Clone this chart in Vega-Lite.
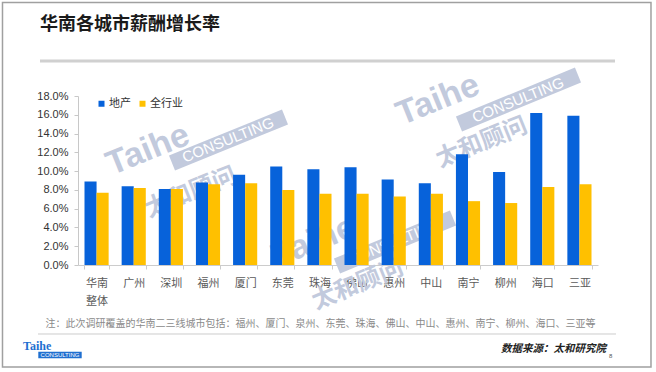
{
  "$schema": "https://vega.github.io/schema/vega-lite/v6.json",
  "width": 520,
  "height": 169,
  "autosize": "none",
  "padding": {"left": 78, "top": 96, "right": 58, "bottom": 107},
  "background": "white",
  "config": {"view": {"stroke": null}},
  "title": {
    "text": "华南各城市薪酬增长率",
    "anchor": "start",
    "frame": "group",
    "dx": -38,
    "offset": -41,
    "baseline": "middle",
    "font": "Noto Sans CJK SC",
    "fontSize": 18,
    "fontWeight": "bold",
    "color": "#1a1a1a"
  },
  "resolve": {"scale": {"x": "independent", "y": "independent"}},
  "layer": [
    {
      "data": {"values": [{}]},
      "mark": {"type": "text", "text": "Taihe", "angle": -22, "font": "Liberation Sans", "fontSize": 34, "fontWeight": "bold", "color": "#c2cadd", "align": "center", "baseline": "middle"},
      "encoding": {
        "x": {"datum": 0.13462, "type": "quantitative", "scale": {"domain": [0, 1], "nice": false}, "axis": null},
        "y": {"datum": 0.12249, "type": "quantitative", "scale": {"domain": [0, 0.18], "nice": false}, "axis": null}
      }
    },
    {
      "data": {"values": [{}]},
      "mark": {"type": "rule", "strokeWidth": 16, "strokeCap": "butt", "color": "#c2cadd"},
      "encoding": {
        "x": {"datum": 0.18077, "type": "quantitative", "scale": {"domain": [0, 1], "nice": false}, "axis": null},
        "x2": {"datum": 0.39808},
        "y": {"datum": 0.10864, "type": "quantitative", "scale": {"domain": [0, 0.18], "nice": false}, "axis": null},
        "y2": {"datum": 0.15763}
      }
    },
    {
      "data": {"values": [{}]},
      "mark": {"type": "text", "text": "CONSULTING", "angle": -22, "font": "Liberation Sans", "fontSize": 15, "color": "#ffffff", "align": "center", "baseline": "middle"},
      "encoding": {
        "x": {"datum": 0.28846, "type": "quantitative", "scale": {"domain": [0, 1], "nice": false}, "axis": null},
        "y": {"datum": 0.13314, "type": "quantitative", "scale": {"domain": [0, 0.18], "nice": false}, "axis": null}
      }
    },
    {
      "data": {"values": [{}]},
      "mark": {"type": "text", "text": "太和顾问", "angle": -22, "font": "Noto Sans CJK SC", "fontSize": 24, "fontWeight": "bold", "color": "#c2cadd", "align": "center", "baseline": "middle"},
      "encoding": {
        "x": {"datum": 0.21731, "type": "quantitative", "scale": {"domain": [0, 1], "nice": false}, "axis": null},
        "y": {"datum": 0.07669, "type": "quantitative", "scale": {"domain": [0, 0.18], "nice": false}, "axis": null}
      }
    },
    {
      "data": {"values": [{}]},
      "mark": {"type": "text", "text": "Taihe", "angle": -22, "font": "Liberation Sans", "fontSize": 34, "fontWeight": "bold", "color": "#c2cadd", "align": "center", "baseline": "middle"},
      "encoding": {
        "x": {"datum": 0.69231, "type": "quantitative", "scale": {"domain": [0, 1], "nice": false}, "axis": null},
        "y": {"datum": 0.17574, "type": "quantitative", "scale": {"domain": [0, 0.18], "nice": false}, "axis": null}
      }
    },
    {
      "data": {"values": [{}]},
      "mark": {"type": "rule", "strokeWidth": 16, "strokeCap": "butt", "color": "#c2cadd"},
      "encoding": {
        "x": {"datum": 0.73269, "type": "quantitative", "scale": {"domain": [0, 1], "nice": false}, "axis": null},
        "x2": {"datum": 0.96154},
        "y": {"datum": 0.15018, "type": "quantitative", "scale": {"domain": [0, 0.18], "nice": false}, "axis": null},
        "y2": {"datum": 0.20237}
      }
    },
    {
      "data": {"values": [{}]},
      "mark": {"type": "text", "text": "CONSULTING", "angle": -22, "font": "Liberation Sans", "fontSize": 15, "color": "#ffffff", "align": "center", "baseline": "middle"},
      "encoding": {
        "x": {"datum": 0.84615, "type": "quantitative", "scale": {"domain": [0, 1], "nice": false}, "axis": null},
        "y": {"datum": 0.17574, "type": "quantitative", "scale": {"domain": [0, 0.18], "nice": false}, "axis": null}
      }
    },
    {
      "data": {"values": [{}]},
      "mark": {"type": "text", "text": "太和顾问", "angle": -22, "font": "Noto Sans CJK SC", "fontSize": 24, "fontWeight": "bold", "color": "#c2cadd", "align": "center", "baseline": "middle"},
      "encoding": {
        "x": {"datum": 0.77692, "type": "quantitative", "scale": {"domain": [0, 1], "nice": false}, "axis": null},
        "y": {"datum": 0.12994, "type": "quantitative", "scale": {"domain": [0, 0.18], "nice": false}, "axis": null}
      }
    },
    {
      "data": {"values": [{}]},
      "mark": {"type": "text", "text": "Taihe", "angle": -22, "font": "Liberation Sans", "fontSize": 34, "fontWeight": "bold", "color": "#c2cadd", "align": "center", "baseline": "middle"},
      "encoding": {
        "x": {"datum": 0.45385, "type": "quantitative", "scale": {"domain": [0, 1], "nice": false}, "axis": null},
        "y": {"datum": 0.0245, "type": "quantitative", "scale": {"domain": [0, 0.18], "nice": false}, "axis": null}
      }
    },
    {
      "data": {"values": [{}]},
      "mark": {"type": "rule", "strokeWidth": 16, "strokeCap": "butt", "color": "#c2cadd"},
      "encoding": {
        "x": {"datum": 0.49808, "type": "quantitative", "scale": {"domain": [0, 1], "nice": false}, "axis": null},
        "x2": {"datum": 0.72115},
        "y": {"datum": -0.00107, "type": "quantitative", "scale": {"domain": [0, 0.18], "nice": false}, "axis": null},
        "y2": {"datum": 0.05006}
      }
    },
    {
      "data": {"values": [{}]},
      "mark": {"type": "text", "text": "CONSULTING", "angle": -22, "font": "Liberation Sans", "fontSize": 15, "color": "#ffffff", "align": "center", "baseline": "middle"},
      "encoding": {
        "x": {"datum": 0.60769, "type": "quantitative", "scale": {"domain": [0, 1], "nice": false}, "axis": null},
        "y": {"datum": 0.0245, "type": "quantitative", "scale": {"domain": [0, 0.18], "nice": false}, "axis": null}
      }
    },
    {
      "data": {"values": [{}]},
      "mark": {"type": "text", "text": "太和顾问", "angle": -22, "font": "Noto Sans CJK SC", "fontSize": 24, "fontWeight": "bold", "color": "#c2cadd", "align": "center", "baseline": "middle"},
      "encoding": {
        "x": {"datum": 0.53846, "type": "quantitative", "scale": {"domain": [0, 1], "nice": false}, "axis": null},
        "y": {"datum": -0.0213, "type": "quantitative", "scale": {"domain": [0, 0.18], "nice": false}, "axis": null}
      }
    },
    {
      "data": {
        "values": [
          {"city": "华南整体", "series": "地产", "value": 0.089},
          {"city": "华南整体", "series": "全行业", "value": 0.077},
          {"city": "广州", "series": "地产", "value": 0.084},
          {"city": "广州", "series": "全行业", "value": 0.082},
          {"city": "深圳", "series": "地产", "value": 0.081},
          {"city": "深圳", "series": "全行业", "value": 0.081},
          {"city": "福州", "series": "地产", "value": 0.088},
          {"city": "福州", "series": "全行业", "value": 0.086},
          {"city": "厦门", "series": "地产", "value": 0.096},
          {"city": "厦门", "series": "全行业", "value": 0.087},
          {"city": "东莞", "series": "地产", "value": 0.105},
          {"city": "东莞", "series": "全行业", "value": 0.080},
          {"city": "珠海", "series": "地产", "value": 0.102},
          {"city": "珠海", "series": "全行业", "value": 0.076},
          {"city": "佛山", "series": "地产", "value": 0.104},
          {"city": "佛山", "series": "全行业", "value": 0.076},
          {"city": "惠州", "series": "地产", "value": 0.091},
          {"city": "惠州", "series": "全行业", "value": 0.073},
          {"city": "中山", "series": "地产", "value": 0.087},
          {"city": "中山", "series": "全行业", "value": 0.076},
          {"city": "南宁", "series": "地产", "value": 0.118},
          {"city": "南宁", "series": "全行业", "value": 0.068},
          {"city": "柳州", "series": "地产", "value": 0.099},
          {"city": "柳州", "series": "全行业", "value": 0.066},
          {"city": "海口", "series": "地产", "value": 0.162},
          {"city": "海口", "series": "全行业", "value": 0.083},
          {"city": "三亚", "series": "地产", "value": 0.159},
          {"city": "三亚", "series": "全行业", "value": 0.086}
        ]
      },
      "mark": {"type": "bar"},
      "encoding": {
        "x": {
          "field": "city",
          "type": "nominal",
          "sort": null,
          "scale": {"paddingInner": 0.35, "paddingOuter": 0.175},
          "axis": {
            "title": "注：此次调研覆盖的华南二三线城市包括：福州、厦门、泉州、东莞、珠海、佛山、中山、惠州、南宁、柳州、海口、三亚等",
            "titleFont": "Noto Sans CJK SC",
            "titleFontSize": 10,
            "titleFontWeight": "normal",
            "titleColor": "#8a8a8a",
            "titleAnchor": "start",
            "titleAlign": "left",
            "titleBaseline": "middle",
            "titleX": -33,
            "titleY": 58,
            "labelExpr": "datum.value == '华南整体' ? ['华南', '整体'] : datum.value",
            "labelAngle": 0,
            "labelFont": "Noto Sans CJK SC",
            "labelFontSize": 11,
            "labelColor": "#5a5a5a",
            "labelLineHeight": 18,
            "labelPadding": 8,
            "tickBand": "extent",
            "tickSize": 4,
            "tickColor": "#cccccc",
            "domainColor": "#cccccc"
          }
        },
        "xOffset": {"field": "series", "type": "nominal", "sort": ["地产", "全行业"], "scale": {"paddingInner": 0}},
        "y": {
          "field": "value",
          "type": "quantitative",
          "scale": {"domain": [0, 0.18], "nice": false},
          "axis": {
            "title": null,
            "format": ".1%",
            "values": [0, 0.02, 0.04, 0.06, 0.08, 0.1, 0.12, 0.14, 0.16, 0.18],
            "grid": false,
            "domain": true,
            "domainColor": "#c8c8c8",
            "ticks": true,
            "tickColor": "#c8c8c8",
            "tickSize": 4,
            "labelPadding": 6,
            "labelFont": "Liberation Sans",
            "labelFontSize": 11,
            "labelColor": "#333333"
          }
        },
        "color": {
          "field": "series",
          "type": "nominal",
          "sort": ["地产", "全行业"],
          "scale": {"domain": ["地产", "全行业"], "range": ["#0762DA", "#FFC000"]},
          "legend": {
            "orient": "none",
            "legendX": 18,
            "legendY": 2,
            "direction": "horizontal",
            "title": null,
            "symbolType": "square",
            "symbolSize": 36,
            "symbolStrokeWidth": 0,
            "labelFont": "Noto Sans CJK SC",
            "labelFontSize": 11,
            "labelColor": "#333333",
            "labelOffset": 2,
            "columnPadding": 6,
            "padding": 0
          }
        }
      }
    },
    {
      "data": {"values": [{}]},
      "mark": {"type": "rule", "strokeWidth": 3, "color": "#d0d0d0"},
      "encoding": {
        "x": {"datum": -0.0731, "type": "quantitative", "scale": {"domain": [0, 1], "nice": false}, "axis": null},
        "x2": {"datum": 1.0327},
        "y": {"datum": 0.21728, "type": "quantitative", "scale": {"domain": [0, 0.18], "nice": false}, "axis": null}
      }
    },
    {
      "data": {"values": [{}]},
      "mark": {"type": "rule", "strokeWidth": 1, "color": "#cccccc"},
      "encoding": {
        "x": {"datum": -0.0769, "type": "quantitative", "scale": {"domain": [0, 1], "nice": false}, "axis": null},
        "x2": {"datum": 1.0346},
        "y": {"datum": -0.07349, "type": "quantitative", "scale": {"domain": [0, 0.18], "nice": false}, "axis": null}
      }
    },
    {
      "data": {"values": [{}]},
      "mark": {"type": "text", "text": "数据来源：太和研究院", "font": "Noto Sans CJK SC", "fontSize": 10.5, "fontWeight": "bold", "fontStyle": "italic", "color": "#222222", "align": "right", "baseline": "middle"},
      "encoding": {
        "x": {"datum": 1.0154, "type": "quantitative", "scale": {"domain": [0, 1], "nice": false}, "axis": null},
        "y": {"datum": -0.08947, "type": "quantitative", "scale": {"domain": [0, 0.18], "nice": false}, "axis": null}
      }
    },
    {
      "data": {"values": [{}]},
      "mark": {"type": "text", "text": "8", "font": "Liberation Sans", "fontSize": 6, "color": "#555555", "align": "left", "baseline": "middle"},
      "encoding": {
        "x": {"datum": 1.0212, "type": "quantitative", "scale": {"domain": [0, 1], "nice": false}, "axis": null},
        "y": {"datum": -0.09692, "type": "quantitative", "scale": {"domain": [0, 0.18], "nice": false}, "axis": null}
      }
    },
    {
      "data": {"values": [{}]},
      "mark": {"type": "text", "text": "Taihe", "font": "Liberation Sans Narrow", "fontSize": 12, "fontWeight": "bold", "color": "#1f6fd0", "align": "left", "baseline": "middle"},
      "encoding": {
        "x": {"datum": -0.10577, "type": "quantitative", "scale": {"domain": [0, 1], "nice": false}, "axis": null},
        "y": {"datum": -0.08627, "type": "quantitative", "scale": {"domain": [0, 0.18], "nice": false}, "axis": null}
      }
    },
    {
      "data": {"values": [{}]},
      "mark": {"type": "rect", "color": "#1f6fd0"},
      "encoding": {
        "x": {"datum": -0.07635, "type": "quantitative", "scale": {"domain": [0, 1], "nice": false}, "axis": null},
        "x2": {"datum": 0.00712},
        "y": {"datum": -0.09234, "type": "quantitative", "scale": {"domain": [0, 0.18], "nice": false}, "axis": null},
        "y2": {"datum": -0.09937}
      }
    },
    {
      "data": {"values": [{}]},
      "mark": {"type": "text", "text": "CONSULTING", "font": "Liberation Sans", "fontSize": 6, "color": "#ffffff", "align": "center", "baseline": "middle"},
      "encoding": {
        "x": {"datum": -0.03462, "type": "quantitative", "scale": {"domain": [0, 1], "nice": false}, "axis": null},
        "y": {"datum": -0.09586, "type": "quantitative", "scale": {"domain": [0, 0.18], "nice": false}, "axis": null}
      }
    },
    {
      "data": {"values": [{}]},
      "mark": {"type": "rect", "filled": false, "color": "#a0a0a0", "strokeWidth": 1.5},
      "encoding": {
        "x": {"datum": -0.1452, "type": "quantitative", "scale": {"domain": [0, 1], "nice": false}, "axis": null},
        "x2": {"datum": 1.1019},
        "y": {"datum": 0.27959, "type": "quantitative", "scale": {"domain": [0, 0.18], "nice": false}, "axis": null},
        "y2": {"datum": -0.10864}
      }
    }
  ]
}
